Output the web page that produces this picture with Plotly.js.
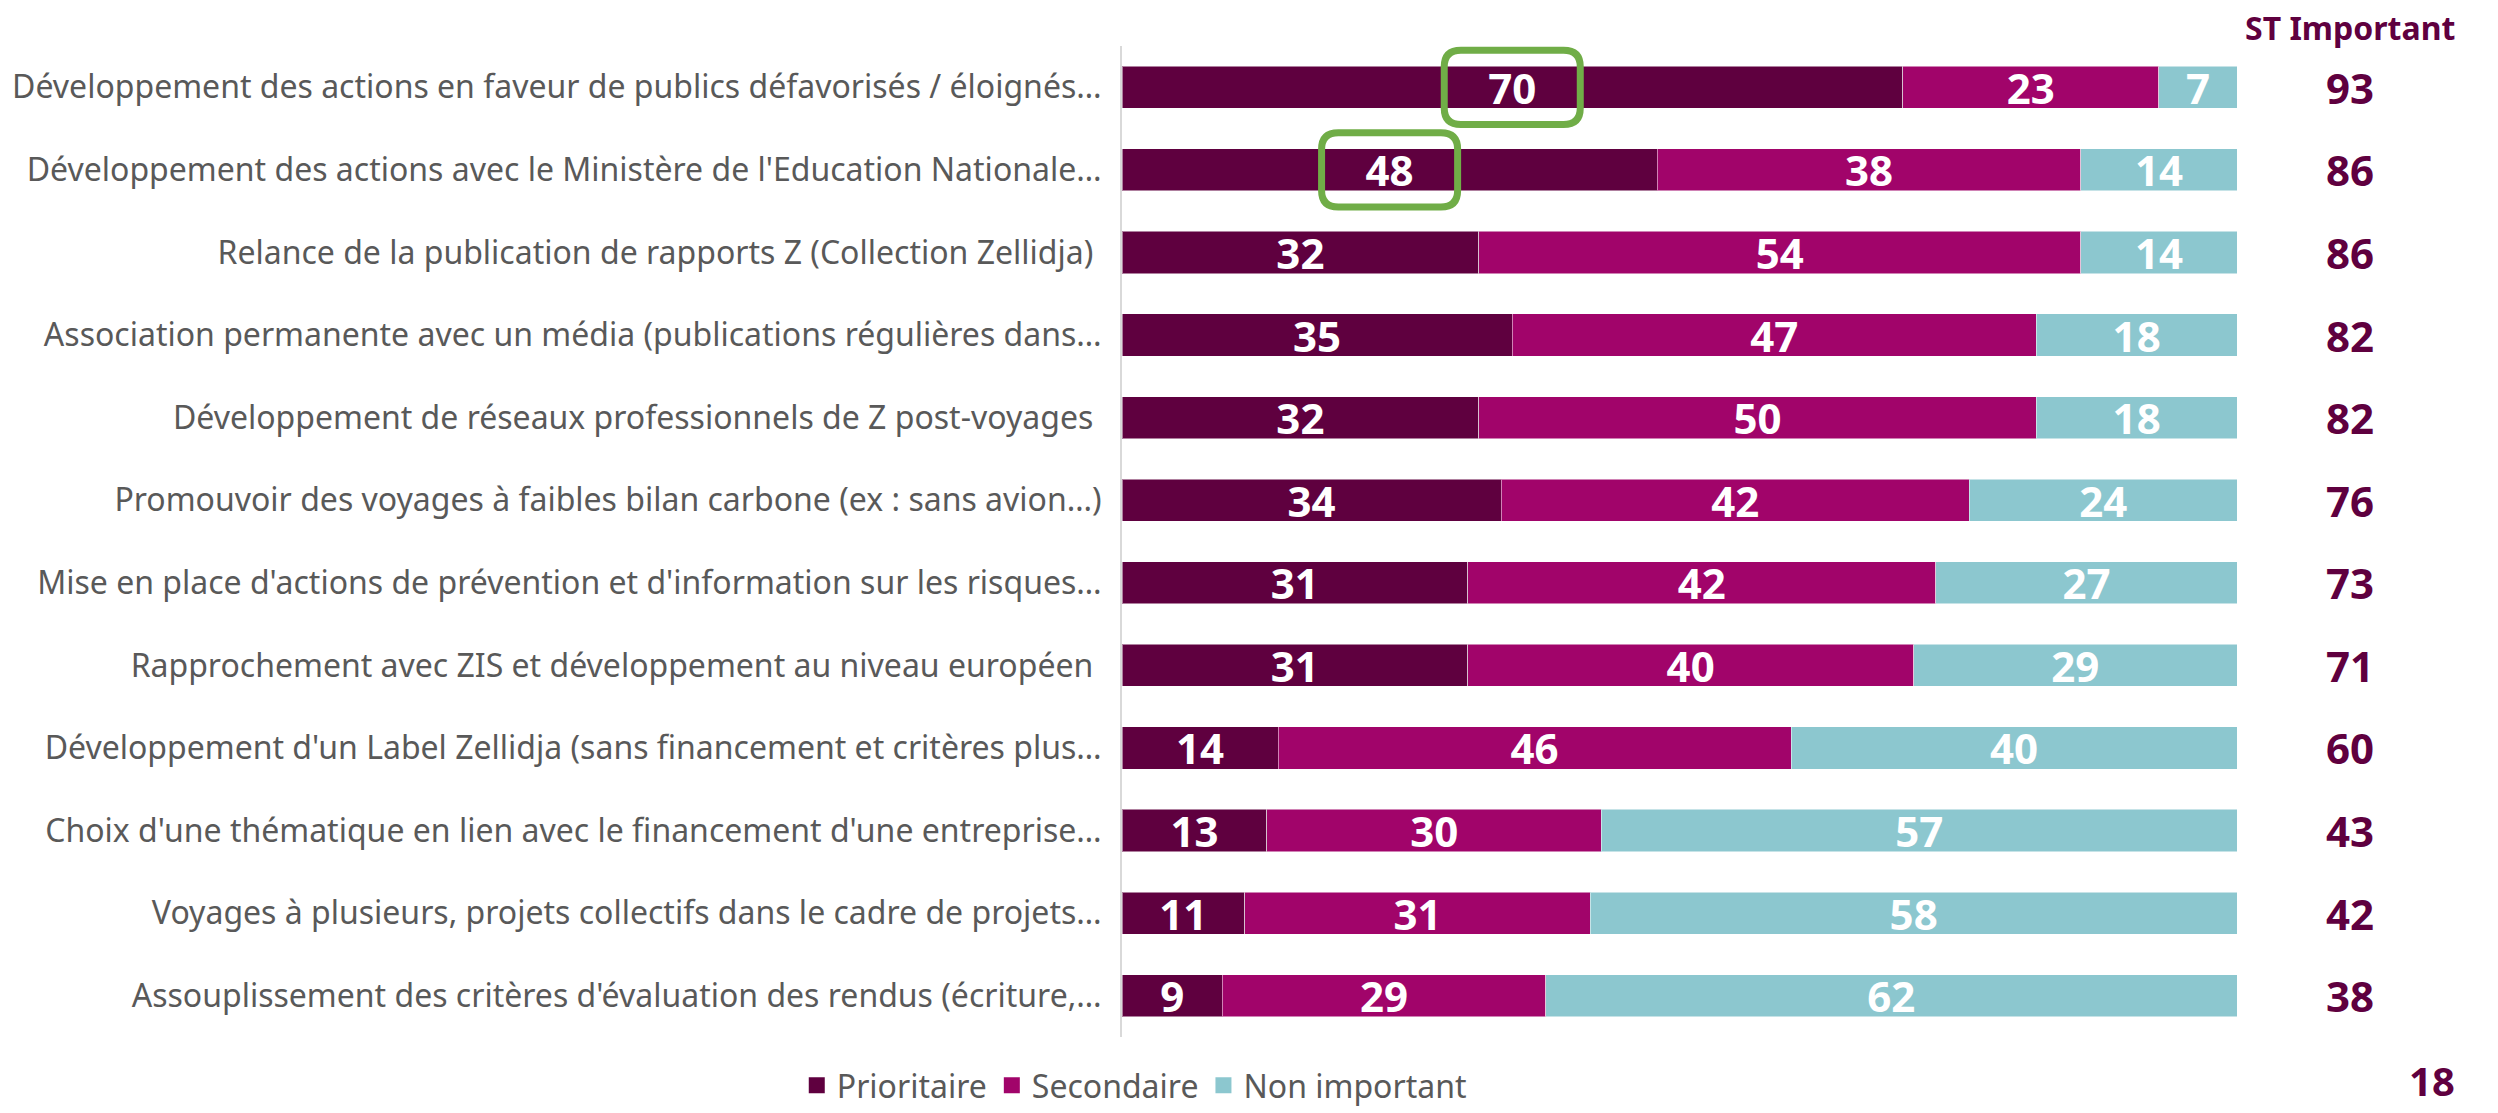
<!DOCTYPE html>
<html><head><meta charset="utf-8">
<script src="https://cdn.plot.ly/plotly-3.0.1.min.js"></script>
<style>html,body{margin:0;padding:0;background:#fff}#chart{width:2498px;height:1113px}</style>
</head><body><div id="chart"></div>
<script>
const categories = [
  "Développement des actions en faveur de publics défavorisés / éloignés…",
  "Développement des actions avec le Ministère de l'Education Nationale…",
  "Relance de la publication de rapports Z (Collection Zellidja) ",
  "Association permanente avec un média (publications régulières dans…",
  "Développement de réseaux professionnels de Z post-voyages ",
  "Promouvoir des voyages à faibles bilan carbone (ex : sans avion…)",
  "Mise en place d'actions de prévention et d'information sur les risques…",
  "Rapprochement avec ZIS et développement au niveau européen ",
  "Développement d'un Label Zellidja (sans financement et critères plus…",
  "Choix d'une thématique en lien avec le financement d'une entreprise…",
  "Voyages à plusieurs, projets collectifs dans le cadre de projets…",
  "Assouplissement des critères d'évaluation des rendus (écriture,…"
];
const prioritaire = [70, 48, 32, 35, 32, 34, 31, 31, 14, 13, 11, 9];
const secondaire  = [23, 38, 54, 47, 50, 42, 42, 40, 46, 30, 31, 29];
const nonImportant = [7, 14, 14, 18, 18, 24, 27, 29, 40, 57, 58, 62];
const stImportant = [93, 86, 86, 82, 82, 76, 73, 71, 60, 43, 42, 38];
const seriesNames = ["Prioritaire", "Secondaire", "Non important"];
const stHeader = "ST Important";
const baseTotal = "18";
const highlighted = [0, 1]; // rows whose "Prioritaire" label is boxed

const colors = ["#5f003f", "#a1046a", "#8cc7cf"];
const FONT = "'Noto Sans', sans-serif";
const dark = "#5f003f";

const series = [prioritaire, secondaire, nonImportant];
const traces = series.map((vals, i) => ({
  type: "bar", orientation: "h", name: seriesNames[i], showlegend: false,
  y: categories, x: vals,
  marker: {color: colors[i], line: {color: "rgba(255,255,255,0.5)", width: 1}},
  text: vals.map(String), textposition: "inside", insidetextanchor: "middle",
  textangle: 0, constraintext: "none",
  textfont: {family: FONT, size: 42, color: "#ffffff", weight: "bold"},
  hoverinfo: "x+y"
}));
// legend entries (square swatches)
seriesNames.forEach((n, i) => traces.push({
  type: "scatter", mode: "markers", name: n, x: [null], y: [null],
  marker: {symbol: "square", size: 16, color: colors[i]}, showlegend: true, hoverinfo: "skip"
}));

const annotations = categories.map((c, i) => ({
  xref: "paper", yref: "y", x: 1.101, y: c, text: String(stImportant[i]),
  showarrow: false, xanchor: "center", yanchor: "middle",
  font: {family: FONT, size: 42, color: dark, weight: "bold"}
}));
annotations.push({xref: "paper", yref: "paper", x: 1.101, y: 1.019, text: stHeader,
  showarrow: false, xanchor: "center", yanchor: "middle",
  font: {family: FONT, size: 32, color: dark, weight: "bold"}});
annotations.push({xref: "paper", yref: "paper", x: 1.175, y: -0.074, text: baseTotal,
  showarrow: false, xanchor: "center", yanchor: "bottom",
  font: {family: FONT, size: 40, color: dark, weight: "bold"}});

// rounded highlight boxes around the "Prioritaire" value label (data coordinates)
function roundedBox(cx, cy, hw, hh, rx, ry) {
  const x0 = cx - hw, x1 = cx + hw, y0 = cy - hh, y1 = cy + hh;
  return `M${x0 + rx},${y0} L${x1 - rx},${y0} Q${x1},${y0} ${x1},${y0 + ry} ` +
    `L${x1},${y1 - ry} Q${x1},${y1} ${x1 - rx},${y1} L${x0 + rx},${y1} ` +
    `Q${x0},${y1} ${x0},${y1 - ry} L${x0},${y0 + ry} Q${x0},${y0} ${x0 + rx},${y0} Z`;
}
const shapes = highlighted.map(i => ({
  type: "path", xref: "x", yref: "y",
  path: roundedBox(prioritaire[i] / 2, i, 6.1, 0.45, 1.5, 0.2),
  line: {color: "#70ad47", width: 7}, fillcolor: "rgba(0,0,0,0)", layer: "above"
}));

const layout = {
  width: 2498, height: 1113,
  margin: {l: 1122, r: 261, t: 46, b: 76, pad: 0, autoexpand: false},
  barmode: "stack", bargap: 0.49,
  paper_bgcolor: "#ffffff", plot_bgcolor: "#ffffff",
  font: {family: FONT, color: "#595959"},
  xaxis: {range: [0, 100], visible: false, fixedrange: true},
  yaxis: {
    type: "category", autorange: "reversed",
    showline: true, linecolor: "#d9d9d9", linewidth: 2,
    showgrid: false, zeroline: false, automargin: false,
    ticks: "outside", ticklen: 12, tickcolor: "rgba(0,0,0,0)",
    tickfont: {family: FONT, size: 32, color: "#595959"}
  },
  showlegend: true,
  legend: {orientation: "h", x: 0.011, xanchor: "center", y: -0.049, yanchor: "middle",
    font: {family: FONT, size: 32, color: "#595959"}, traceorder: "normal",
    itemwidth: 30, itemsizing: "trace"},
  annotations: annotations, shapes: shapes
};
Plotly.newPlot("chart", traces, layout, {displayModeBar: false, staticPlot: true});
</script></body></html>
